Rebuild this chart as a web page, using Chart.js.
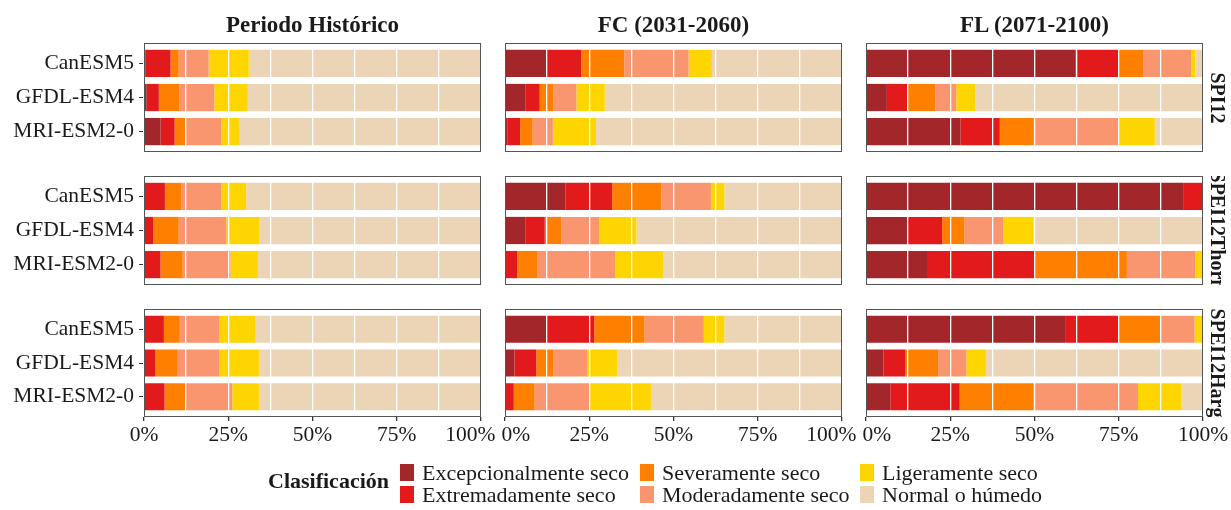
<!DOCTYPE html>
<html>
<head>
<meta charset="utf-8">
<script src="https://cdn.jsdelivr.net/npm/chart.js@4"></script>
<style>
  body { margin: 0; background: #fff; font-family: 'Liberation Serif', serif; color: #1a1a1a; }
  #wrap { position: relative; width: 1231px; height: 510px; overflow: hidden; }
  canvas { position: absolute; left: 0; top: 0; }
  .title { position: absolute; top: 13px; font-size: 23px; font-weight: bold; text-align: center; line-height: 1; }
  .strip { position: absolute; left: 1204px; width: 27px; overflow: hidden; }
  .strip span { position: absolute; left: 50%; top: 50%; white-space: nowrap; font-size: 20px; font-weight: bold;
    transform: translate(-50%, -50%) rotate(90deg); line-height: 1; }
  .leg { position: absolute; font-size: 22px; line-height: 1; white-space: nowrap; }
  .key { position: absolute; width: 14px; height: 17px; }
</style>
</head>
<body>
<div id="wrap"></div>
<script>
// categorias y etiquetas
const models = ['CanESM5', 'GFDL-ESM4', 'MRI-ESM2-0']
const periods = ['Periodo Histórico', 'FC (2031-2060)', 'FL (2071-2100)']
const indices = ['SPI12', 'SPEI12Thorn', 'SPEI12Harg']
const classes = ['Excepcionalmente seco', 'Extremadamente seco', 'Severamente seco',
  'Moderadamente seco', 'Ligeramente seco', 'Normal o húmedo']
const colors = ['#a3262b', '#e31a1c', '#ff7f00', '#f9966f', '#ffd500', '#ecd4b6']
const xTicks = [0, 25, 50, 75, 100]

// porcentajes por modelo (filas) y clase (columnas)
const spi12Hist = [
  [0.5, 7.4, 2.4, 8.9, 11.9, 68.9],
  [0.8, 3.6, 6.1, 10.4, 9.9, 69.2],
  [4.9, 4.2, 3.4, 10.5, 5.4, 71.6],
]
const spi12FC = [
  [12.2, 10.4, 12.8, 19.1, 6.9, 38.6],
  [6.0, 4.3, 4.1, 6.8, 8.4, 70.4],
  [0.8, 3.7, 3.7, 6.0, 12.8, 73.0],
]
const spi12FL = [
  [62.1, 12.7, 7.6, 14.1, 1.2, 2.3],
  [6.2, 6.3, 8.1, 6.2, 5.6, 67.6],
  [28.0, 11.7, 10.1, 25.0, 10.9, 14.3],
]
const thornHist = [
  [0.3, 5.9, 4.9, 11.9, 7.3, 69.7],
  [0.2, 2.5, 7.6, 14.1, 9.9, 65.7],
  [0.3, 4.6, 6.6, 14.2, 8.1, 66.2],
]
const thornFC = [
  [17.9, 13.9, 14.6, 14.7, 4.0, 34.9],
  [6.0, 5.8, 4.9, 11.3, 11.0, 61.0],
  [0.3, 3.3, 5.9, 23.2, 14.2, 53.1],
]
const thornFL = [
  [94.1, 5.9, 0, 0, 0, 0],
  [12.2, 10.4, 6.6, 11.6, 8.9, 50.3],
  [18.1, 31.9, 27.4, 20.3, 2.3, 0],
]
const hargHist = [
  [0.2, 5.7, 4.7, 11.8, 10.7, 66.9],
  [0.2, 3.2, 6.6, 12.4, 11.7, 65.9],
  [0.3, 5.8, 6.2, 13.9, 7.9, 65.9],
]
const hargFC = [
  [12.2, 14.3, 14.9, 17.6, 6.1, 34.9],
  [2.8, 6.5, 5.1, 10.1, 8.9, 66.6],
  [0.2, 2.4, 6.2, 16.3, 18.2, 56.7],
]
const hargFL = [
  [59.3, 15.6, 12.7, 9.9, 2.2, 0.3],
  [5.2, 6.5, 9.7, 8.4, 5.8, 64.4],
  [7.2, 20.6, 21.8, 31.1, 12.8, 6.5],
]

const grid = [
  [spi12Hist, spi12FC, spi12FL],
  [thornHist, thornFC, thornFL],
  [hargHist, hargFC, hargFL],
]

// posicion de los paneles
const W = 1231, H = 510
const colLeft = [144, 505, 866]
const colRight = [481, 842, 1203]
const rowTop = [43, 176, 309]
const rowBottom = [152, 285, 417]
const yAxisW = 144
const xAxisH = 30
const font = { family: "'Liberation Serif', serif", size: 21.5 }
const nudge = '\u2002\u2002' // separa 100% y 0% entre paneles vecinos

const wrap = document.getElementById('wrap')

// borde del panel encima de todo
const borderPlugin = {
  id: 'panelBorder',
  afterDraw(chart) {
    const a = chart.chartArea
    const ctx = chart.ctx
    ctx.save()
    ctx.strokeStyle = '#555'
    ctx.lineWidth = 1
    ctx.strokeRect(Math.round(a.left) + 0.5, Math.round(a.top) + 0.5,
      Math.round(a.right - a.left) - 1, Math.round(a.bottom - a.top) - 1)
    ctx.restore()
  },
}

function xLabel(v, c) {
  if (!xTicks.includes(v)) return ''
  const txt = v + '%'
  if (v === 100 && c < 2) return txt + nudge
  if (v === 0 && c > 0) return nudge + txt
  return txt
}

function makePanel(r, c) {
  const vals = grid[r][c]
  const canvas = document.createElement('canvas')
  canvas.width = W
  canvas.height = H
  wrap.appendChild(canvas)

  const firstCol = c === 0
  const lastRow = r === 2

  const datasets = classes.map((name, k) => ({
    label: name,
    data: models.map((m, i) => ({ x: vals[i][k], y: i + 1 })),
    backgroundColor: colors[k],
    borderWidth: 0,
    stack: 'a',
    barPercentage: 0.8,
    categoryPercentage: 1,
  }))

  return new Chart(canvas.getContext('2d'), {
    type: 'bar',
    data: { datasets },
    options: {
      indexAxis: 'y',
      responsive: false,
      animation: false,
      devicePixelRatio: 1,
      layout: {
        padding: {
          left: firstCol ? colLeft[c] - yAxisW : colLeft[c],
          right: W - colRight[c],
          top: rowTop[r],
          bottom: H - rowBottom[r] - (lastRow ? xAxisH : 0),
        },
      },
      plugins: { legend: { display: false }, tooltip: { enabled: false } },
      scales: {
        x: {
          type: 'linear',
          stacked: true,
          min: 0,
          max: 100,
          offset: false,
          border: { display: false },
          grid: {
            z: 1,
            offset: false,
            color: '#ffffff',
            lineWidth: 1.3,
            drawTicks: lastRow,
            tickLength: 4,
            tickColor: (ctx) => (ctx.tick && xTicks.includes(ctx.tick.value) ? '#333' : 'rgba(0,0,0,0)'),
          },
          ticks: {
            display: lastRow,
            stepSize: 12.5,
            autoSkip: false,
            maxRotation: 0,
            padding: 1,
            color: '#1a1a1a',
            font,
            callback: (v) => xLabel(v, c),
          },
          afterFit(s) {
            s.height = lastRow ? xAxisH : 0
            s.paddingLeft = 0
            s.paddingRight = 0
          },
        },
        y: {
          type: 'linear',
          stacked: true,
          min: 0.4,
          max: 3.6,
          reverse: true,
          offset: false,
          display: firstCol,
          border: { display: false },
          grid: { offset: false, drawOnChartArea: false, drawTicks: true, tickLength: 5, tickColor: '#333' },
          ticks: {
            padding: 5,
            color: '#1a1a1a',
            font,
            callback: (v) => models[v - 1] || '',
          },
          afterBuildTicks(s) {
            s.ticks = models.map((m, i) => ({ value: i + 1 }))
          },
          afterFit(s) {
            s.width = firstCol ? yAxisW : 0
            s.paddingTop = 0
            s.paddingBottom = 0
          },
        },
      },
    },
    plugins: [borderPlugin],
  })
}

for (let r = 0; r < 3; r++) {
  for (let c = 0; c < 3; c++) makePanel(r, c)
}

// titulos de columna
periods.forEach((p, c) => {
  const d = document.createElement('div')
  d.className = 'title'
  d.style.left = colLeft[c] + 'px'
  d.style.width = colRight[c] - colLeft[c] + 'px'
  d.textContent = p
  wrap.appendChild(d)
})

// etiquetas de fila (strip derecho)
indices.forEach((name, r) => {
  const d = document.createElement('div')
  d.className = 'strip'
  d.style.top = rowTop[r] + 'px'
  d.style.height = rowBottom[r] - rowTop[r] + 'px'
  const s = document.createElement('span')
  s.textContent = name
  d.appendChild(s)
  wrap.appendChild(d)
})

// leyenda
function addText(txt, x, y, bold) {
  const d = document.createElement('div')
  d.className = 'leg'
  d.style.left = x + 'px'
  d.style.top = y + 'px'
  if (bold) d.style.fontWeight = 'bold'
  d.textContent = txt
  wrap.appendChild(d)
}
addText('Clasificación', 268, 470, true)
const legX = [400, 640, 860]
const legY = [464, 486]
classes.forEach((name, k) => {
  const col = Math.floor(k / 2)
  const row = k % 2
  const key = document.createElement('div')
  key.className = 'key'
  key.style.left = legX[col] + 'px'
  key.style.top = legY[row] + 'px'
  key.style.background = colors[k]
  wrap.appendChild(key)
  addText(name, legX[col] + 22, legY[row] - 2, false)
})
</script>
</body>
</html>
